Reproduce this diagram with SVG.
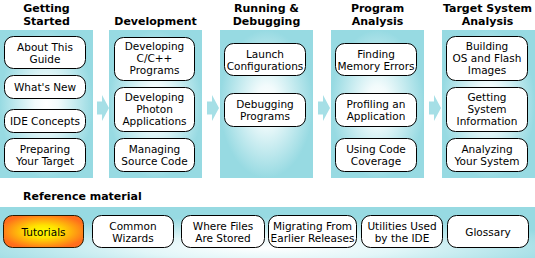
<svg xmlns="http://www.w3.org/2000/svg" width="535" height="258" viewBox="0 0 535 258">
<defs>
<radialGradient id="panelGrad" cx="50%" cy="50%" r="50%">
<stop offset="0" stop-color="#ffffff"/>
<stop offset="0.25" stop-color="#f2fbfc"/>
<stop offset="1" stop-color="#97dae2"/>
</radialGradient>
<radialGradient id="bandGrad" cx="50%" cy="80%" r="60%">
<stop offset="0" stop-color="#ffffff"/>
<stop offset="0.4" stop-color="#e2f6f8"/>
<stop offset="1" stop-color="#97dae2"/>
</radialGradient>
<radialGradient id="tutGrad" cx="50%" cy="50%" r="55%">
<stop offset="0" stop-color="#ffff00"/>
<stop offset="0.35" stop-color="#ffe400"/>
<stop offset="1" stop-color="#ff6e1c"/>
</radialGradient>
</defs>
<style>
.panel{fill:url(#panelGrad)}
.band{fill:url(#bandGrad)}
.node{fill:#ffffff;stroke:#000000;stroke-width:1}
.tut{fill:url(#tutGrad);stroke:#2a1a00;stroke-width:1}
.arrow{fill:#a6dfe6}
.title{font-family:"DejaVu Sans",Verdana,sans-serif;font-weight:bold;font-size:11px;fill:#000;text-anchor:middle}
.sec{font-family:"DejaVu Sans",Verdana,sans-serif;font-weight:bold;font-size:11px;fill:#000}
.lbl{font-family:"DejaVu Sans",Verdana,sans-serif;font-size:10.5px;fill:#000;text-anchor:middle}
</style>
<rect width="535" height="258" fill="#ffffff"/>

<!-- panels -->
<g id="panels">
<rect class="panel" x="0" y="30" width="93" height="148"/>
<rect class="panel" x="109" y="30" width="93" height="148"/>
<rect class="panel" x="220" y="30" width="93" height="148"/>
<rect class="panel" x="331" y="30" width="93" height="148"/>
<rect class="panel" x="442" y="30" width="93" height="148"/>
<rect class="band" x="0" y="207" width="535" height="51"/>
</g>

<!-- titles -->
<g id="titles">
<text class="title" x="46.5" y="12">Getting</text>
<text class="title" x="46.5" y="25">Started</text>
<text class="title" x="155.5" y="25">Development</text>
<text class="title" x="266.5" y="12">Running &amp;</text>
<text class="title" x="266.5" y="25">Debugging</text>
<text class="title" x="377.5" y="12">Program</text>
<text class="title" x="377.5" y="25">Analysis</text>
<text class="title" x="487.5" y="12">Target System</text>
<text class="title" x="487.5" y="25">Analysis</text>
<text class="sec" x="23" y="200">Reference material</text>
</g>

<!-- connectors -->
<g id="connectors">
<polygon class="arrow" points="97,101.5 102,101.5 102,95 109,108 102,121 102,114.5 97,114.5"/>
<polygon class="arrow" points="207,101.5 212,101.5 212,95 219,108 212,121 212,114.5 207,114.5"/>
<polygon class="arrow" points="318,101.5 323,101.5 323,95 330,108 323,121 323,114.5 318,114.5"/>
<polygon class="arrow" points="429,101.5 434,101.5 434,95 441,108 434,121 434,114.5 429,114.5"/>
</g>

<!-- Getting Started -->
<g id="about-this-guide"><rect class="node" x="4.5" y="36.5" width="81" height="32" rx="9"/><text class="lbl" x="45" y="50.5">About This</text><text class="lbl" x="45" y="62.5">Guide</text></g>
<g id="whats-new"><rect class="node" x="4.5" y="75.5" width="81" height="23" rx="9"/><text class="lbl" x="45" y="91">What's New</text></g>
<g id="ide-concepts"><rect class="node" x="4.5" y="109.5" width="81" height="23" rx="9"/><text class="lbl" x="45" y="125">IDE Concepts</text></g>
<g id="preparing-your-target"><rect class="node" x="4.5" y="138.5" width="81" height="33" rx="9"/><text class="lbl" x="45" y="153">Preparing</text><text class="lbl" x="45" y="165">Your Target</text></g>

<!-- Development -->
<g id="developing-cpp"><rect class="node" x="114.5" y="37.5" width="80" height="43" rx="9"/><text class="lbl" x="154.5" y="50">Developing</text><text class="lbl" x="154.5" y="62">C/C++</text><text class="lbl" x="154.5" y="74">Programs</text></g>
<g id="developing-photon"><rect class="node" x="114.5" y="87.5" width="80" height="44" rx="9"/><text class="lbl" x="154.5" y="101">Developing</text><text class="lbl" x="154.5" y="113">Photon</text><text class="lbl" x="154.5" y="125">Applications</text></g>
<g id="managing-source"><rect class="node" x="114.5" y="138.5" width="80" height="33" rx="9"/><text class="lbl" x="154.5" y="153">Managing</text><text class="lbl" x="154.5" y="165">Source Code</text></g>

<!-- Running & Debugging -->
<g id="launch-configurations"><rect class="node" x="224.5" y="43.5" width="81" height="32" rx="9"/><text class="lbl" x="265" y="57.5">Launch</text><text class="lbl" x="265" y="69.5">Configurations</text></g>
<g id="debugging-programs"><rect class="node" x="224.5" y="93.5" width="81" height="33" rx="9"/><text class="lbl" x="265" y="108">Debugging</text><text class="lbl" x="265" y="120">Programs</text></g>

<!-- Program Analysis -->
<g id="finding-memory-errors"><rect class="node" x="335.5" y="43.5" width="81" height="32" rx="9"/><text class="lbl" x="376" y="57.5">Finding</text><text class="lbl" x="376" y="69.5">Memory Errors</text></g>
<g id="profiling"><rect class="node" x="335.5" y="93.5" width="81" height="33" rx="9"/><text class="lbl" x="376" y="108">Profiling an</text><text class="lbl" x="376" y="120">Application</text></g>
<g id="code-coverage"><rect class="node" x="335.5" y="138.5" width="81" height="33" rx="9"/><text class="lbl" x="376" y="153">Using Code</text><text class="lbl" x="376" y="165">Coverage</text></g>

<!-- Target System Analysis -->
<g id="building-os"><rect class="node" x="446.5" y="36.5" width="81" height="44" rx="9"/><text class="lbl" x="487" y="50">Building</text><text class="lbl" x="487" y="62">OS and Flash</text><text class="lbl" x="487" y="74">Images</text></g>
<g id="system-information"><rect class="node" x="446.5" y="87.5" width="81" height="44" rx="9"/><text class="lbl" x="487" y="101">Getting</text><text class="lbl" x="487" y="113">System</text><text class="lbl" x="487" y="125">Information</text></g>
<g id="analyzing-system"><rect class="node" x="446.5" y="138.5" width="81" height="33" rx="9"/><text class="lbl" x="487" y="153">Analyzing</text><text class="lbl" x="487" y="165">Your System</text></g>

<!-- Reference material -->
<g id="tutorials"><rect class="tut" x="3.5" y="215.5" width="80" height="32" rx="9"/><text class="lbl" x="43.5" y="235.5">Tutorials</text></g>
<g id="common-wizards"><rect class="node" x="92.5" y="215.5" width="81" height="32" rx="9"/><text class="lbl" x="133" y="229.5">Common</text><text class="lbl" x="133" y="241.5">Wizards</text></g>
<g id="where-files-stored"><rect class="node" x="181.5" y="215.5" width="83" height="32" rx="9"/><text class="lbl" x="223" y="229.5">Where Files</text><text class="lbl" x="223" y="241.5">Are Stored</text></g>
<g id="migrating"><rect class="node" x="268.5" y="215.5" width="88" height="32" rx="9"/><text class="lbl" x="312.5" y="229.5">Migrating From</text><text class="lbl" x="312.5" y="241.5">Earlier Releases</text></g>
<g id="utilities"><rect class="node" x="361.5" y="215.5" width="81" height="32" rx="9"/><text class="lbl" x="402" y="229.5">Utilities Used</text><text class="lbl" x="402" y="241.5">by the IDE</text></g>
<g id="glossary"><rect class="node" x="447.5" y="215.5" width="81" height="32" rx="9"/><text class="lbl" x="488" y="235.5">Glossary</text></g>
</svg>
